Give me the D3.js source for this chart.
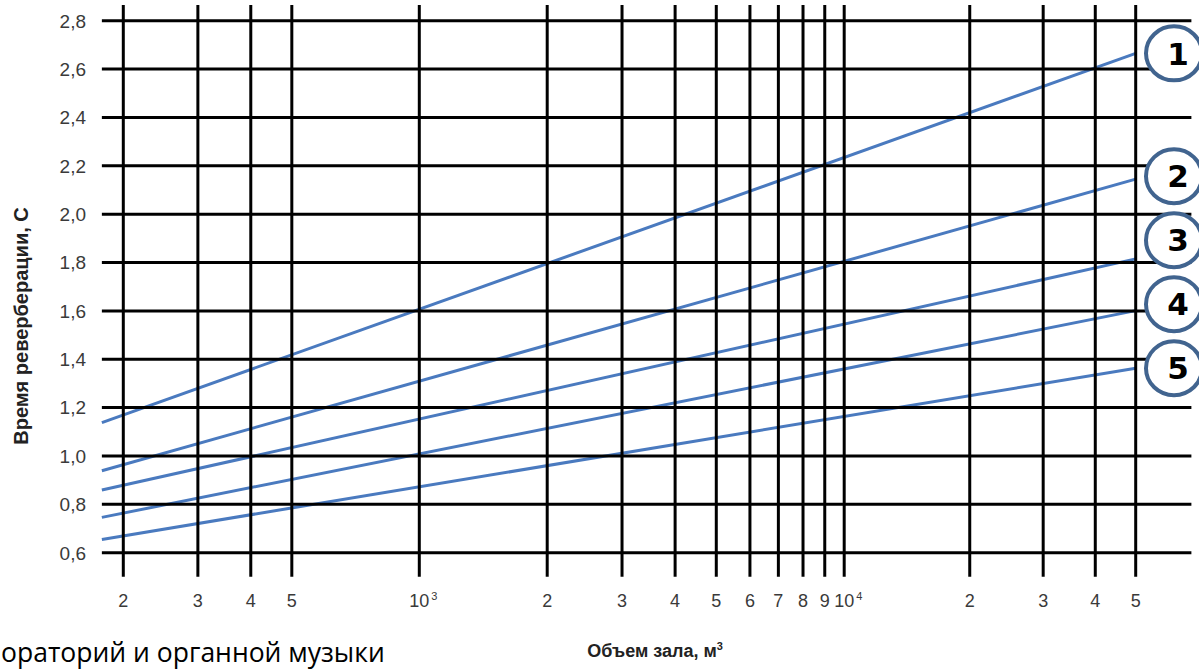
<!DOCTYPE html>
<html>
<head>
<meta charset="utf-8">
<script src="https://cdn.jsdelivr.net/npm/d3@7"></script>
<style>
  html, body { margin: 0; padding: 0; background: #fff; }
  svg { display: block; }
</style>
</head>
<body>
<svg id="chart" width="1199" height="669"></svg>
<script>
// Volume gridlines (m³) and their labels; exponents mark the decade labels
const volumeTicks = [200, 300, 400, 500, 1000, 2000, 3000, 4000, 5000, 6000, 7000, 8000, 9000, 10000, 20000, 30000, 40000, 50000];
const volumeTickLabels = ["2", "3", "4", "5", "10", "2", "3", "4", "5", "6", "7", "8", "9", "10", "2", "3", "4", "5"];
const volumeTickExponents = ["", "", "", "", "3", "", "", "", "", "", "", "", "", "4", "", "", "", ""];

// Reverberation time gridlines (s)
const reverbTicks = [0.6, 0.8, 1.0, 1.2, 1.4, 1.6, 1.8, 2.0, 2.2, 2.4, 2.6, 2.8];

// Each curve is straight on the log-volume axis: value at the first and last volume
const seriesNames = ["1", "2", "3", "4", "5"];
const curveVolumes = [178, 50000];
const reverb1 = [1.138, 2.665];
const reverb2 = [0.939, 2.145];
const reverb3 = [0.859, 1.815];
const reverb4 = [0.746, 1.601];
const reverb5 = [0.655, 1.363];
const seriesValues = [reverb1, reverb2, reverb3, reverb4, reverb5];

const gridExtentVolume = [178, 68000];

const svg = d3.select("#chart");

// Log volume axis (slightly uneven decades, as printed)
const x = d3.scaleLog()
  .domain([200, 1000, 10000, 50000])
  .range([123.3, 419.3, 844.2, 1135.7]);

const y = d3.scaleLinear()
  .domain([0.6, 2.8])
  .range([552.7, 20.7]);

const gridColor = "#000";
const curveColor = "#4a7abf";
const textColor = "#3a3a3a";
const sans = "Liberation Sans, Arial, sans-serif";

// Curves
const line = d3.line()
  .x(d => x(d[0]))
  .y(d => y(d[1]));

svg.append("g")
  .attr("class", "curves")
  .selectAll("path")
  .data(seriesValues)
  .join("path")
  .attr("d", vals => line(curveVolumes.map((v, i) => [v, vals[i]])))
  .attr("fill", "none")
  .attr("stroke", curveColor)
  .attr("stroke-width", 3);

// Horizontal gridlines
const grid = svg.append("g").attr("class", "grid");
grid.selectAll("line.h")
  .data(reverbTicks)
  .join("line")
  .attr("class", "h")
  .attr("x1", x(gridExtentVolume[0]))
  .attr("x2", x(gridExtentVolume[1]))
  .attr("y1", d => y(d))
  .attr("y2", d => y(d))
  .attr("stroke", gridColor)
  .attr("stroke-width", 3);

// Vertical gridlines, running past the frame as ticks
const yTop = y(2.8) - 15.7;
const yBottom = y(0.6) + 24;
grid.selectAll("line.v")
  .data(volumeTicks)
  .join("line")
  .attr("class", "v")
  .attr("x1", d => x(d))
  .attr("x2", d => x(d))
  .attr("y1", yTop)
  .attr("y2", yBottom)
  .attr("stroke", gridColor)
  .attr("stroke-width", 3);

// Y tick labels with decimal comma
const fmt = d3.format(".1f");
svg.append("g")
  .attr("class", "y-labels")
  .selectAll("text")
  .data(reverbTicks)
  .join("text")
  .attr("x", 86)
  .attr("y", d => y(d))
  .attr("dy", "0.36em")
  .attr("text-anchor", "end")
  .attr("font-family", sans)
  .attr("font-size", 19)
  .attr("fill", textColor)
  .text(d => fmt(d).replace(".", ","));

// X tick labels: the mantissa is centred on its gridline, the exponent sits after it
const xLabels = svg.append("g").attr("class", "x-labels");
const labelBaseline = 607;
xLabels.selectAll("text.base")
  .data(volumeTicks)
  .join("text")
  .attr("class", "base")
  .attr("x", d => x(d))
  .attr("y", labelBaseline)
  .attr("text-anchor", "middle")
  .attr("font-family", sans)
  .attr("font-size", 18)
  .attr("fill", textColor)
  .text((d, i) => volumeTickLabels[i]);

xLabels.selectAll("text.exp")
  .data(volumeTicks.filter((d, i) => volumeTickExponents[i] !== ""))
  .join("text")
  .attr("class", "exp")
  .attr("x", d => x(d) + 12)
  .attr("y", labelBaseline - 7)
  .attr("text-anchor", "start")
  .attr("font-family", sans)
  .attr("font-size", 11)
  .attr("fill", textColor)
  .text(d => volumeTickExponents[volumeTicks.indexOf(d)]);

// Axis titles
svg.append("text")
  .attr("transform", "translate(21,326) rotate(-90)")
  .attr("text-anchor", "middle")
  .attr("dy", "0.35em")
  .attr("font-family", sans)
  .attr("font-weight", "bold")
  .attr("font-size", 20)
  .attr("fill", "#222")
  .text("Время реверберации, С");

const xTitle = svg.append("text")
  .attr("x", 655)
  .attr("y", 657)
  .attr("text-anchor", "middle")
  .attr("font-family", sans)
  .attr("font-weight", "bold")
  .attr("font-size", 18)
  .attr("fill", "#222");
xTitle.append("tspan").text("Объем зала, м");
xTitle.append("tspan").attr("dy", -7).attr("font-size", 11).text("3");

// Caption text along the bottom edge
svg.append("text")
  .attr("x", 1)
  .attr("y", 662)
  .attr("text-anchor", "start")
  .attr("font-family", "Open Sans, Noto Sans, sans-serif")
  .attr("font-size", 26.5)
  .attr("fill", "#000")
  .text("ораторий и органной музыки");

// Numbered badges at the curve ends, stacked upward with a minimum gap
const badgeGap = 64;
const endY = seriesValues.map(v => y(v[v.length - 1]));
const badgeY = endY.slice();
for (let i = badgeY.length - 2; i >= 0; i--) {
  badgeY[i] = Math.min(endY[i], badgeY[i + 1] - badgeGap);
}

const badges = svg.append("g")
  .attr("class", "badges")
  .selectAll("g")
  .data(seriesNames)
  .join("g")
  .attr("transform", (d, i) => `translate(1174,${badgeY[i]})`);

badges.append("ellipse")
  .attr("rx", 28)
  .attr("ry", 27)
  .attr("fill", "#fff")
  .attr("stroke", "#41648f")
  .attr("stroke-width", 4);

badges.append("text")
  .attr("x", 4)
  .attr("dy", "0.36em")
  .attr("text-anchor", "middle")
  .attr("font-family", "DejaVu Sans, sans-serif")
  .attr("font-weight", "bold")
  .attr("font-size", 31)
  .attr("fill", "#000")
  .text(d => d);
</script>
</body>
</html>
